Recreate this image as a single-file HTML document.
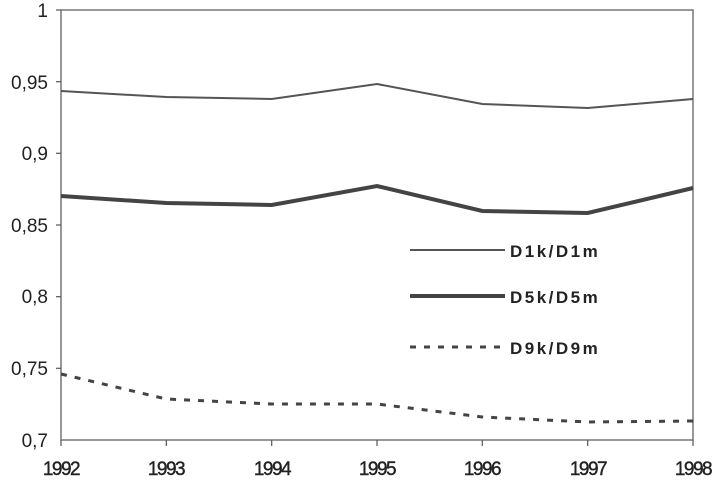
<!DOCTYPE html>
<html><head><style>body{margin:0;background:#fff}svg{display:block}</style></head><body>
<svg width="714" height="481" xmlns="http://www.w3.org/2000/svg" font-family="Liberation Sans, sans-serif">
<rect x="61" y="10" width="632" height="430" fill="none" stroke="#777" stroke-width="1.5"/>
<g stroke="#555" stroke-width="1.2">
<line x1="56" y1="10" x2="61" y2="10"/><line x1="56" y1="81.7" x2="61" y2="81.7"/><line x1="56" y1="153.3" x2="61" y2="153.3"/><line x1="56" y1="225" x2="61" y2="225"/><line x1="56" y1="296.7" x2="61" y2="296.7"/><line x1="56" y1="368.3" x2="61" y2="368.3"/>
<line x1="61" y1="440" x2="61" y2="446"/><line x1="166.3" y1="440" x2="166.3" y2="446"/><line x1="271.7" y1="440" x2="271.7" y2="446"/><line x1="377" y1="440" x2="377" y2="446"/><line x1="482.3" y1="440" x2="482.3" y2="446"/><line x1="587.7" y1="440" x2="587.7" y2="446"/><line x1="693" y1="440" x2="693" y2="446"/>
</g>
<g font-size="19" fill="#222" text-anchor="end">
<text x="48" y="17">1</text><text x="48" y="89">0,95</text><text x="48" y="160">0,9</text><text x="48" y="232">0,85</text><text x="48" y="303">0,8</text><text x="48" y="375">0,75</text><text x="48" y="447">0,7</text>
</g>
<g font-size="19" fill="#222" text-anchor="middle" letter-spacing="-1.5" stroke="#222" stroke-width="0.4">
<text x="61" y="475">1992</text><text x="166" y="475">1993</text><text x="272" y="475">1994</text><text x="377" y="475">1995</text><text x="482" y="475">1996</text><text x="588" y="475">1997</text><text x="693" y="475">1998</text>
</g>
<polyline fill="none" stroke="#555" stroke-width="2" points="61,91 166.3,97 271.7,99 377,84 482.3,104 587.7,108 693,99"/>
<polyline fill="none" stroke="#444" stroke-width="4" points="61,196 166.3,203 271.7,205 377,186 482.3,211 587.7,213 693,188"/>
<polyline fill="none" stroke="#444" stroke-width="3" stroke-dasharray="6,8" points="61,374 166.3,399 271.7,404 377,404 482.3,417 587.7,422 693,421"/>
<line x1="410" y1="250" x2="505" y2="250" stroke="#555" stroke-width="2"/>
<line x1="410" y1="296" x2="505" y2="296" stroke="#444" stroke-width="4"/>
<line x1="410" y1="347" x2="505" y2="347" stroke="#444" stroke-width="3" stroke-dasharray="6,8"/>
<g font-size="17" font-weight="bold" fill="#222" letter-spacing="2.5">
<text x="510" y="257">D1k/D1m</text><text x="510" y="303">D5k/D5m</text><text x="510" y="354">D9k/D9m</text>
</g>
</svg>
</body></html>
